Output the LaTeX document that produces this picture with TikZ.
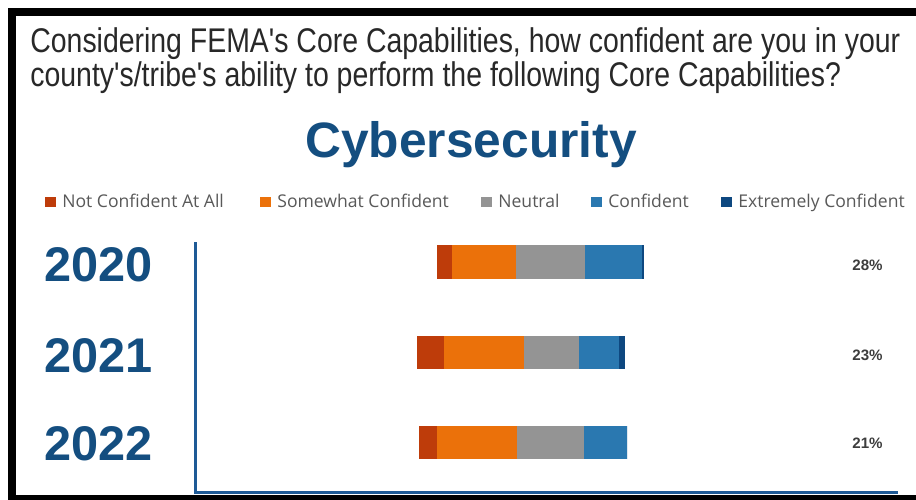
\documentclass[tikz,border=0pt]{standalone}
\usepackage{fontspec}
\setmainfont{Liberation Sans}
\newfontfamily\titlefont{Liberation Sans}[FakeStretch=0.83]
\newfontfamily\legendfont{Open Sans}
\usepackage{tikz}

\definecolor{ncred}{RGB}{190,60,10}
\definecolor{sworange}{RGB}{235,113,10}
\definecolor{ntgray}{RGB}{148,148,148}
\definecolor{cfblue}{RGB}{42,120,176}
\definecolor{exblue}{RGB}{14,72,128}
\definecolor{axisblue}{RGB}{30,90,150}
\definecolor{yearblue}{RGB}{20,78,128}
\definecolor{titlegray}{RGB}{40,40,40}
\definecolor{legendgray}{RGB}{89,89,89}

\begin{document}
\begin{tikzpicture}[x=0.02cm, y=-0.02cm,
    year/.style={anchor=base west, inner sep=0, text=yearblue, font=\fontsize{27.7}{30}\selectfont\bfseries},
    pct/.style={anchor=base west, inner sep=0, text=titlegray!90, font=\fontsize{8.6}{10}\selectfont\bfseries},
    legtext/.style={anchor=base west, inner sep=0, text=legendgray, font=\legendfont\fontsize{10}{12}\selectfont},
    legbox/.style={minimum width=11*0.02cm, minimum height=10*0.02cm, inner sep=0, fill=#1}]
    \useasboundingbox (0,0) rectangle (916,500);
    \fill[white] (0,0) rectangle (916,500);

    % black frame round the slide
    \fill[black] (8,8) rectangle (916,16);
    \fill[black] (8,8) rectangle (16,500);
    \fill[black] (8,495) rectangle (916,500);

    % question (base = baseline of the second line)
    \node (title) at (30,87) [anchor=base west, inner sep=0, align=left, text=titlegray, font=\titlefont\fontsize{19.5}{19.9}\selectfont]
        {Considering FEMA's Core Capabilities, how confident are you in your\\
         county's/tribe's ability to perform the following Core Capabilities?};
    \node (heading) at (471,157) [anchor=base, inner sep=0, text=yearblue, font=\fontsize{28.3}{30}\selectfont\bfseries] {Cybersecurity};

    % legend
    \node (boxA) at (50,202) [legbox=ncred] {};
    \node (legA) at (62,207.5) [legtext] {Not Confident At All};
    \node (boxB) at (265,202) [legbox=sworange] {};
    \node (legB) at (277,207.5) [legtext] {Somewhat Confident};
    \node (boxC) at (486,202) [legbox=ntgray] {};
    \node (legC) at (498,207.5) [legtext] {Neutral};
    \node (boxD) at (596,202) [legbox=cfblue] {};
    \node (legD) at (608,207.5) [legtext] {Confident};
    \node (boxE) at (726,202) [legbox=exblue] {};
    \node (legE) at (738,207.5) [legtext] {Extremely Confident};

    % axes
    \draw[axisblue, line width=3*0.02cm] (195,242) -- (195,492) -- (898,492);

    % stacked bars
    \foreach \yt/\yb/\a/\b/\c/\d/\e/\f in {245/279/437/452/516/585/642/643.5,
                                            336/369/417/444/524/579/619/625,
                                            426/459/419/437/517/584/627/627}{
        \fill[ncred] (\a,\yt) rectangle (\b,\yb);
        \fill[sworange] (\b,\yt) rectangle (\c,\yb);
        \fill[ntgray] (\c,\yt) rectangle (\d,\yb);
        \fill[cfblue] (\d,\yt) rectangle (\e,\yb);
        \fill[exblue] (\e,\yt) rectangle (\f,\yb);
    }

    % years and values
    \node (yA) at (44,281) [year] {2020};
    \node (yB) at (44,372) [year] {2021};
    \node (yC) at (44,460) [year] {2022};
    \node (pA) at (852,270) [pct] {28\%};
    \node (pB) at (852,360) [pct] {23\%};
    \node (pC) at (852,448) [pct] {21\%};
\end{tikzpicture}
\end{document}
